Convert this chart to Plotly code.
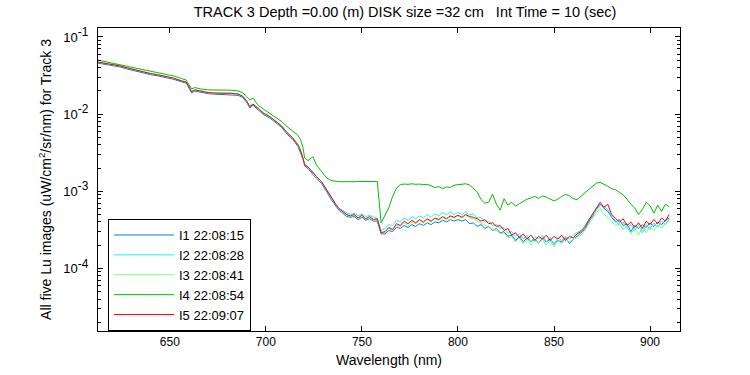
import plotly.graph_objects as go

# Wavelength grid (nm)
wl_smooth = [612.7, 616, 620, 624, 628, 632, 636, 640, 644, 648, 652, 656, 658.5, 660, 661.3,
             663, 666, 670, 674, 678, 682, 685.5, 688, 690, 691.6, 693.3, 696, 699, 702, 705,
             708, 711, 714, 716.7, 718, 719.3, 720.2, 722, 724.5, 726.3, 729, 731.5, 734, 736.5, 738]
wl_noisy = [740, 742, 744, 746, 748, 750, 752, 754, 756, 758, 760, 762, 764, 766, 768, 770,
            772, 774, 776, 778, 780, 782, 784, 786, 788, 790, 792, 794, 796, 798, 800, 802,
            804, 806, 808, 810, 812, 814, 816, 818, 820, 822, 824, 826, 828, 830, 832, 834,
            836, 838, 840, 842, 844, 846, 848, 850, 852, 854, 856, 858, 860, 862, 864, 866,
            868, 870, 872, 874, 876, 878, 880, 882, 884, 886, 888, 890, 892, 894, 896, 898,
            900, 902, 904, 906, 908, 910]

# Smooth part (612-738 nm)
smooth_main = [0.0471, 0.0456, 0.0440, 0.0422, 0.0396, 0.0372, 0.0351, 0.0335, 0.0322, 0.0310,
               0.0292, 0.0270, 0.0260, 0.0225, 0.0196, 0.0206, 0.0198, 0.0190, 0.0187, 0.0187,
               0.0186, 0.0182, 0.0170, 0.0148, 0.0125, 0.0135, 0.0118, 0.0102, 0.0093, 0.0081,
               0.0071, 0.0058, 0.0049, 0.0040, 0.0034, 0.0027, 0.00221, 0.00206, 0.00172, 0.00156,
               0.00133, 0.00105, 0.00082, 0.00067, 0.00060]
smooth_blue = [0.0458, 0.0443, 0.0427, 0.0409, 0.0383, 0.0360, 0.0340, 0.0325, 0.0312, 0.0300,
               0.0283, 0.0262, 0.0252, 0.0217, 0.0188, 0.0199, 0.0191, 0.0184, 0.0181, 0.0180,
               0.0179, 0.0175, 0.0164, 0.0143, 0.0120, 0.0130, 0.0113, 0.0098, 0.0089, 0.0078,
               0.0068, 0.0055, 0.0047, 0.0038, 0.0032, 0.0026, 0.00212, 0.00197, 0.00164, 0.00149,
               0.00126, 0.00100, 0.00078, 0.00064, 0.00057]
smooth_i4 = [0.0500, 0.0482, 0.0462, 0.0440, 0.0418, 0.0396, 0.0377, 0.0360, 0.0345, 0.0332,
             0.0312, 0.0290, 0.0276, 0.0240, 0.0212, 0.0221, 0.0212, 0.0206, 0.0206, 0.0206,
             0.0204, 0.0200, 0.0188, 0.0168, 0.0153, 0.0161, 0.0130, 0.0115, 0.0103, 0.0091,
             0.0081, 0.0069, 0.0060, 0.0053, 0.0047, 0.0037, 0.0027, 0.0025, 0.0028, 0.0022,
             0.0018, 0.0015, 0.00138, 0.00134, 0.00133]

# Noisy part (740-910 nm)
noisy_i1 = [0.00052, 0.00047, 0.00046, 0.00047, 0.00043, 0.00046, 0.00042, 0.00044, 0.00041, 0.00041,
            0.00028, 0.00028, 0.00031, 0.00030, 0.00034, 0.00033, 0.00036, 0.00034, 0.00037, 0.00035,
            0.00038, 0.00036, 0.00039, 0.00037, 0.00040, 0.00039, 0.00042, 0.00040, 0.00043, 0.00041,
            0.00043, 0.00041, 0.00043, 0.00038, 0.00039, 0.00035, 0.00037, 0.00033, 0.00035, 0.00031,
            0.00033, 0.00029, 0.00030, 0.00026, 0.00027, 0.00023, 0.00026, 0.00022, 0.00025, 0.00022,
            0.00024, 0.00021, 0.00025, 0.00022, 0.00024, 0.00021, 0.00023, 0.00022, 0.00025, 0.00021,
            0.00024, 0.00026, 0.00029, 0.00032, 0.00040, 0.00047, 0.00058, 0.00068, 0.00060, 0.00055,
            0.00046, 0.00040, 0.00043, 0.00036, 0.00038, 0.00030, 0.00036, 0.00033, 0.00037, 0.00034,
            0.00039, 0.00035, 0.00040, 0.00037, 0.00042, 0.00045]
noisy_i2 = [0.00057, 0.00053, 0.00050, 0.00052, 0.00048, 0.00051, 0.00047, 0.00049, 0.00046, 0.00045,
            0.00031, 0.00033, 0.00037, 0.00036, 0.00042, 0.00040, 0.00045, 0.00042, 0.00047, 0.00044,
            0.00048, 0.00045, 0.00050, 0.00046, 0.00051, 0.00048, 0.00053, 0.00049, 0.00054, 0.00050,
            0.00053, 0.00050, 0.00054, 0.00049, 0.00051, 0.00045, 0.00046, 0.00040, 0.00041, 0.00036,
            0.00037, 0.00033, 0.00034, 0.00029, 0.00030, 0.00026, 0.00028, 0.00024, 0.00027, 0.00022,
            0.00026, 0.00024, 0.00027, 0.00022, 0.00025, 0.00020, 0.00025, 0.00023, 0.00026, 0.00024,
            0.00027, 0.00029, 0.00031, 0.00035, 0.00043, 0.00049, 0.00057, 0.00066, 0.00064, 0.00058,
            0.00048, 0.00041, 0.00036, 0.00040, 0.00033, 0.00037, 0.00031, 0.00036, 0.00029, 0.00037,
            0.00032, 0.00039, 0.00034, 0.00041, 0.00037, 0.00044]
noisy_i3 = [0.00054, 0.00049, 0.00047, 0.00049, 0.00044, 0.00048, 0.00043, 0.00046, 0.00042, 0.00043,
            0.00030, 0.00029, 0.00033, 0.00031, 0.00036, 0.00035, 0.00039, 0.00036, 0.00040, 0.00038,
            0.00042, 0.00039, 0.00043, 0.00040, 0.00044, 0.00042, 0.00046, 0.00043, 0.00047, 0.00045,
            0.00048, 0.00045, 0.00049, 0.00045, 0.00044, 0.00041, 0.00039, 0.00036, 0.00034, 0.00032,
            0.00031, 0.00028, 0.00029, 0.00025, 0.00026, 0.00022, 0.00025, 0.00021, 0.00024, 0.00020,
            0.00023, 0.00021, 0.00024, 0.00020, 0.00023, 0.00019, 0.00023, 0.00021, 0.00024, 0.00022,
            0.00024, 0.00025, 0.00027, 0.00031, 0.00037, 0.00044, 0.00052, 0.00060, 0.00050, 0.00046,
            0.00041, 0.00036, 0.00039, 0.00032, 0.00035, 0.00028, 0.00033, 0.00027, 0.00034, 0.00029,
            0.00035, 0.00031, 0.00037, 0.00033, 0.00039, 0.00041]
noisy_i4 = [0.00133, 0.00132, 0.00132, 0.00133, 0.00134, 0.00134, 0.00133, 0.00134, 0.00134, 0.00134,
            0.00039, 0.00050, 0.00061, 0.00086, 0.00110, 0.00122, 0.00124, 0.00123, 0.00125, 0.00123,
            0.00124, 0.00122, 0.00123, 0.00118, 0.00112, 0.00115, 0.00108, 0.00114, 0.00112, 0.00120,
            0.00122, 0.00124, 0.00125, 0.00121, 0.00110, 0.00098, 0.00078, 0.00070, 0.00072, 0.00092,
            0.00068, 0.00057, 0.00080, 0.00066, 0.00072, 0.00064, 0.00069, 0.00074, 0.00079, 0.00082,
            0.00086, 0.00081, 0.00087, 0.00084, 0.00080, 0.00075, 0.00079, 0.00086, 0.00091, 0.00088,
            0.00080, 0.00078, 0.00086, 0.00095, 0.00104, 0.00118, 0.00127, 0.00131, 0.00124, 0.00116,
            0.00108, 0.00105, 0.00097, 0.00090, 0.00079, 0.00068, 0.00061, 0.00050, 0.00058, 0.00072,
            0.00065, 0.00052, 0.00066, 0.00055, 0.00068, 0.00063]
noisy_i5 = [0.00055, 0.00050, 0.00048, 0.00050, 0.00045, 0.00049, 0.00044, 0.00047, 0.00043, 0.00044,
            0.00029, 0.00030, 0.00034, 0.00032, 0.00038, 0.00036, 0.00041, 0.00038, 0.00042, 0.00039,
            0.00043, 0.00040, 0.00044, 0.00041, 0.00045, 0.00043, 0.00047, 0.00044, 0.00048, 0.00046,
            0.00049, 0.00046, 0.00050, 0.00047, 0.00046, 0.00044, 0.00041, 0.00043, 0.00038, 0.00039,
            0.00035, 0.00036, 0.00031, 0.00033, 0.00027, 0.00029, 0.00025, 0.00028, 0.00024, 0.00027,
            0.00023, 0.00026, 0.00024, 0.00027, 0.00023, 0.00026, 0.00024, 0.00027, 0.00023, 0.00026,
            0.00025, 0.00028, 0.00030, 0.00034, 0.00042, 0.00050, 0.00060, 0.00072, 0.00062, 0.00068,
            0.00050, 0.00044, 0.00040, 0.00044, 0.00036, 0.00040, 0.00034, 0.00039, 0.00033, 0.00041,
            0.00037, 0.00043, 0.00038, 0.00045, 0.00041, 0.00050]

names = ["I1 22:08:15", "I2 22:08:28", "I3 22:08:41", "I4 22:08:54", "I5 22:09:07"]
colors = ["#0a78e8", "#1ef0f8", "#7cfc7c", "#00bf00", "#ff0000"]
series = [smooth_blue + noisy_i1, smooth_main + noisy_i2, smooth_main + noisy_i3,
          smooth_i4 + noisy_i4, smooth_main + noisy_i5]
wl = wl_smooth + wl_noisy

y_tickvals = [1e-4, 1e-3, 1e-2, 1e-1]
y_exps = ["-4", "-3", "-2", "-1"]
y_ticktext = ["10<sup><span style='font-size:12px'>%s</span></sup>" % e for e in y_exps]
x_tickvals = [650, 700, 750, 800, 850, 900]

minor_vals = [m * 10.0 ** e for e in range(-5, 0) for m in range(2, 10)]

fig = go.Figure()
for name, col, ys in zip(names, colors, series):
    fig.add_trace(go.Scatter(x=wl, y=ys, mode="lines", name=name,
                             line=dict(color=col, width=1)))

W, H = 750, 375
L, T, R, B = 98, 28, 680, 331
FAM = "Liberation Sans, Arial, sans-serif"
fig.update_layout(
    width=W, height=H,
    margin=dict(l=L, r=W - R, t=T, b=H - B, autoexpand=False),
    paper_bgcolor="white", plot_bgcolor="white",
    font=dict(family=FAM, size=12, color="black"),
    title=dict(text="TRACK 3 Depth =0.00 (m) DISK size =32 cm\u00a0\u00a0\u00a0Int Time = 10 (sec)",
               x=405 / W, xanchor="center", y=1 - 12 / H, yanchor="middle",
               font=dict(family=FAM, size=14.5, color="black")),
    showlegend=True,
    legend=dict(x=(108 - L) / (R - L), y=(B - 219) / (B - T), xanchor="left", yanchor="top",
                bgcolor="white", bordercolor="black", borderwidth=1,
                font=dict(family=FAM, size=13, color="black"),
                itemwidth=60, tracegroupgap=0),
)
fig.update_xaxes(range=[612.6, 915.6], tickvals=x_tickvals, ticks="inside", ticklen=5,
                 tickcolor="black", showline=True, linecolor="black", linewidth=1,
                 mirror="ticks", showgrid=False, zeroline=False, automargin=False,
                 title=dict(text="Wavelength (nm)", standoff=6))
fig.update_yaxes(type="log", range=[-4.811, -0.884], tickvals=y_tickvals, ticktext=y_ticktext,
                 ticks="inside", ticklen=5, tickcolor="black", showline=True, linecolor="black",
                 linewidth=1, mirror="ticks", showgrid=False, zeroline=False, automargin=False,
                 ticklabelstandoff=6, tickfont=dict(family=FAM, size=13, color="black"),
                 minor=dict(tickvals=minor_vals, ticks="inside", ticklen=3, tickcolor="black",
                            showgrid=False),
                 title=dict(text="All five Lu images (uW/cm<sup>2</sup>/sr/nm) for Track 3", standoff=8))

# Remove the browser's default 8px body margin so the figure sits flush in the window.
fig.write_html("out.html", config={"displayModeBar": False},
               post_script="document.body.style.margin='0';")
